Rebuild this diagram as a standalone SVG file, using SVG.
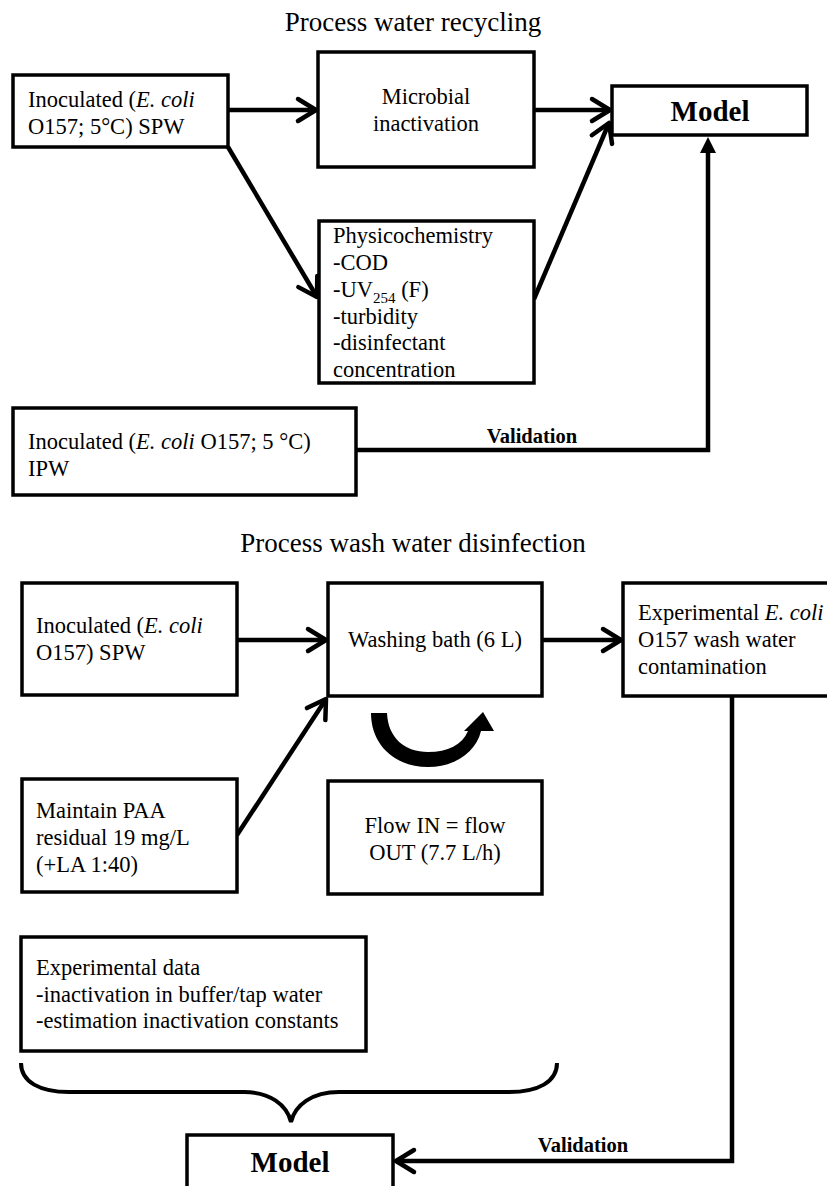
<svg xmlns="http://www.w3.org/2000/svg" width="827" height="1186" viewBox="0 0 827 1186">
<style>
text{font-family:"Liberation Serif","Times New Roman",serif;font-size:22.5px;fill:#000}
.t{font-size:27px}
.b{font-weight:bold;font-size:29px}
.v{font-weight:bold;font-size:20.5px}
.c{text-anchor:middle}
.i{font-style:italic}
.box{fill:#fff;stroke:#000;stroke-width:3.5}
.ln{fill:none;stroke:#000;stroke-width:4.5}
</style>
<defs>
<marker id="chev" markerUnits="userSpaceOnUse" viewBox="-24 -15 28 30" refX="0" refY="0" markerWidth="28" markerHeight="30" orient="auto" overflow="visible">
<path d="M -18 -11 L 0 0 L -18 11" fill="none" stroke="#000" stroke-width="4.5" stroke-linecap="round" stroke-linejoin="round"/>
</marker>
<marker id="tri" markerUnits="userSpaceOnUse" viewBox="-18 -10 20 20" refX="0" refY="0" markerWidth="20" markerHeight="20" orient="auto" overflow="visible">
<path d="M -16 -8 L 0 0 L -16 8 Z" fill="#000"/>
</marker>
</defs>

<text class="t c" x="413" y="31">Process water recycling</text>
<text class="t c" x="413" y="552">Process wash water disinfection</text>

<g id="connectors">
<line class="ln" x1="228" y1="110" x2="316" y2="110" marker-end="url(#chev)"/>
<line class="ln" x1="228" y1="147" x2="317" y2="297" marker-end="url(#chev)"/>
<line class="ln" x1="534" y1="110" x2="610" y2="110" marker-end="url(#chev)"/>
<line class="ln" x1="534" y1="299" x2="609" y2="123" marker-end="url(#chev)"/>
<polyline class="ln" points="356,450 708,450 708,150"/>
<line x1="708" y1="152" x2="708" y2="137" stroke="none" marker-end="url(#tri)"/>
<line class="ln" x1="237" y1="640" x2="326" y2="640" marker-end="url(#chev)"/>
<line class="ln" x1="542" y1="640" x2="621" y2="640" marker-end="url(#chev)"/>
<line class="ln" x1="237" y1="835" x2="326" y2="699" marker-end="url(#chev)"/>
<polyline class="ln" points="732,696 732,1161 396,1161" marker-end="url(#chev)"/>
<path d="M 371 713 C 371 745 395 767 428 767 C 455 767 476 752 481 731 L 494 731 L 483 712 L 464 731 L 468 731 C 462 745 448 752 428 752 C 405 752 388 738 387 713 Z" fill="#000"/>
<path d="M 21 1063 C 21 1082 40 1092 69 1092 L 244 1092 C 270 1092 287 1105 291 1122 C 295 1105 312 1092 339 1092 L 509 1092 C 538 1092 557 1082 557 1063" fill="none" stroke="#000" stroke-width="4"/>
<text class="v c" x="532" y="443">Validation</text>
<text class="v c" x="583" y="1152">Validation</text>
</g>

<g id="n_spw1">
<rect class="box" x="13" y="75" width="215" height="72"/>
<text x="28" y="107">Inoculated (<tspan class="i">E. coli</tspan></text>
<text x="28" y="134">O157; 5°C) SPW</text>
</g>

<g id="n_micro">
<rect class="box" x="318" y="52" width="216" height="115"/>
<text class="c" x="426" y="104">Microbial</text>
<text class="c" x="426" y="131">inactivation</text>
</g>

<g id="n_model1">
<rect class="box" x="612" y="86" width="195" height="49"/>
<text class="b c" x="710" y="121">Model</text>
</g>

<g id="n_physico">
<rect class="box" x="319" y="221" width="215" height="162"/>
<text x="333" y="243">Physicochemistry</text>
<text x="333" y="270">-COD</text>
<text x="333" y="297">-UV<tspan font-size="15" dy="6">254</tspan><tspan dy="-6"> (F)</tspan></text>
<text x="333" y="324">-turbidity</text>
<text x="333" y="350">-disinfectant</text>
<text x="333" y="377">concentration</text>
</g>

<g id="n_ipw">
<rect class="box" x="13" y="408" width="343" height="87"/>
<text x="28" y="449">Inoculated (<tspan class="i">E. coli</tspan> O157; 5 °C)</text>
<text x="28" y="476">IPW</text>
</g>

<g id="n_spw2">
<rect class="box" x="22" y="583" width="215" height="112"/>
<text x="36" y="633">Inoculated (<tspan class="i">E. coli</tspan></text>
<text x="36" y="660">O157) SPW</text>
</g>

<g id="n_bath">
<rect class="box" x="328" y="583" width="214" height="113"/>
<text class="c" x="435" y="647">Washing bath (6 L)</text>
</g>

<g id="n_expcont">
<rect class="box" x="623" y="583" width="214" height="113"/>
<text x="638" y="620">Experimental <tspan class="i">E. coli</tspan></text>
<text x="638" y="647">O157 wash water</text>
<text x="638" y="674">contamination</text>
</g>

<g id="n_paa">
<rect class="box" x="22" y="779" width="215" height="113"/>
<text x="36" y="818">Maintain PAA</text>
<text x="36" y="845">residual 19 mg/L</text>
<text x="36" y="872">(+LA 1:40)</text>
</g>

<g id="n_flow">
<rect class="box" x="328" y="781" width="214" height="113"/>
<text class="c" x="435" y="833">Flow IN = flow</text>
<text class="c" x="435" y="860">OUT (7.7 L/h)</text>
</g>

<g id="n_expdata">
<rect class="box" x="21" y="937" width="345" height="114"/>
<text x="36" y="975">Experimental data</text>
<text x="36" y="1002">-inactivation in buffer/tap water</text>
<text x="36" y="1028">-estimation inactivation constants</text>
</g>

<g id="n_model2">
<rect class="box" x="187" y="1135" width="206" height="60"/>
<text class="b c" x="290" y="1172">Model</text>
</g>
</svg>
